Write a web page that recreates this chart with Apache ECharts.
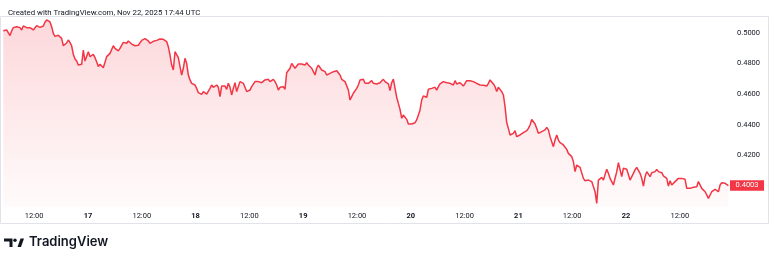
<!DOCTYPE html>
<html><head><meta charset="utf-8">
<script src="https://cdn.jsdelivr.net/npm/echarts@6/dist/echarts.min.js"></script>
<style>html,body{margin:0;padding:0;background:#fff}#c{width:778px;height:258px}</style>
</head><body><div id="c"></div>
<script>
// Prices, in time order (Nov 16 → Nov 22)
const pricesA = [
0.5013,0.5015,0.5018,0.5007,0.4981,0.5011,0.5033,0.5046,0.5039,0.5044,
0.5033,0.5018,0.5044,0.5046,0.5033,0.5024,0.5033,0.5024,0.5018,0.5028,
0.5046,0.5042,0.5035,0.5046,0.5044,0.5068,0.5083,0.5076,0.5070,0.5039,
0.4996,0.4976,0.4981,0.4983,0.4985,0.4963,0.4915,0.4920,0.4933,0.4952,
0.4937,0.4915,0.4859,0.4829,0.4815,0.4789,0.4789,0.4794,0.4887,0.4815,
0.4811,0.4876,0.4844,0.4833,0.4859,0.4837,0.4811,0.4779,0.4794,0.4800,
0.4772,0.4807,0.4844,0.4837,0.4865,0.4876,0.4915,0.4898,0.4902,0.4881,
0.4898,0.4902,0.4937,0.4931,0.4931,0.4946,0.4937,0.4926,0.4922,0.4915,
0.4920,0.4918,0.4924,0.4950,0.4963,0.4961,0.4952,0.4946,0.4931,0.4942,
0.4944,0.4948,0.4950,0.4952,0.4959,0.4963,0.4957,0.4950,0.4942,0.4909,
0.4855,0.4789,0.4757,0.4876,0.4865,0.4837];
const pricesB = [
0.4779,0.4724,0.4768,0.4833,0.4800,0.4724,0.4692,0.4670,0.4681,0.4659,
0.4637,0.4609,0.4605,0.4598,0.4616,0.4626,0.4600,0.4609,0.4637,0.4659,
0.4644,0.4631,0.4659,0.4644,0.4583,0.4652,0.4665,0.4652,0.4631,0.4670,
0.4644,0.4594,0.4637,0.4674,0.4616,0.4609,0.4681,0.4681,0.4670,0.4659,
0.4616,0.4605,0.4626,0.4648,0.4652,0.4681,0.4692,0.4681,0.4687,0.4674,
0.4681,0.4692,0.4687,0.4696,0.4681,0.4670,0.4696,0.4681,0.4659,0.4626,
0.4644,0.4631,0.4648,0.4631,0.4739,0.4746,0.4768,0.4800,0.4796,0.4768,
0.4774,0.4796,0.4800,0.4796,0.4800,0.4789,0.4805,0.4789,0.4789,0.4768,
0.4746,0.4724,0.4768,0.4789,0.4783,0.4757,0.4752,0.4746,0.4724,0.4713,
0.4735,0.4739,0.4746,0.4735,0.4752,0.4746,0.4724,0.4696,0.4687,0.4681,
0.4670,0.4626,0.4561,0.4583,0.4605,0.4616,0.4637,0.4659];
const pricesC = [
0.4692,0.4696,0.4696,0.4670,0.4659,0.4670,0.4681,0.4687,0.4670,0.4674,
0.4666,0.4670,0.4674,0.4687,0.4696,0.4681,0.4674,0.4666,0.4622,0.4674,
0.4698,0.4637,0.4579,0.4539,0.4500,0.4442,0.4463,0.4463,0.4435,0.4405,
0.4400,0.4405,0.4398,0.4413,0.4431,0.4463,0.4496,0.4561,0.4587,0.4594,
0.4579,0.4631,0.4626,0.4637,0.4637,0.4644,0.4626,0.4648,0.4666,0.4674,
0.4681,0.4674,0.4674,0.4666,0.4670,0.4659,0.4659,0.4687,0.4666,0.4659,
0.4674,0.4666,0.4652,0.4670,0.4687,0.4696,0.4687,0.4692,0.4681,0.4674,
0.4670,0.4666,0.4659,0.4652,0.4657,0.4648,0.4652,0.4670,0.4692,0.4681,
0.4666,0.4648,0.4616,0.4644,0.4648,0.4616,0.4594,0.4518,0.4413,0.4376,
0.4333,0.4322,0.4344,0.4361,0.4322,0.4311,0.4333,0.4322,0.4348,0.4339,
0.4361,0.4376,0.4398,0.4435,0.4440,0.4405,0.4376,0.4344];
const pricesD = [
0.4333,0.4355,0.4348,0.4366,0.4383,0.4366,0.4322,0.4311,0.4257,0.4300,
0.4333,0.4300,0.4283,0.4274,0.4268,0.4253,0.4239,0.4213,0.4209,0.4192,
0.4159,0.4094,0.4137,0.4148,0.4122,0.4109,0.4050,0.4035,0.4029,0.4039,
0.4050,0.4029,0.4018,0.3963,0.3887,0.4039,0.4039,0.4057,0.4039,0.4050,
0.4109,0.4083,0.4050,0.4029,0.4007,0.4018,0.4094,0.4152,0.4148,0.4061,
0.4116,0.4126,0.4109,0.4105,0.4039,0.4029,0.4083,0.4105,0.4122,0.4116,
0.4083,0.4050,0.4000,0.4061,0.4094,0.4100,0.4061,0.4087,0.4100,0.4094,
0.4109,0.4094,0.4083,0.4087,0.4066,0.4072,0.4050,0.4000,0.4035,0.4007,
0.4018,0.4029,0.4035,0.4050,0.4057,0.4050,0.4050,0.4044,0.3985,0.3974,
0.3985,0.3974,0.3992,0.3979,0.3996,0.4029,0.4018,0.3985,0.3974,0.3963,
0.3942,0.3920,0.3926,0.3963,0.3974,0.3979,0.3985,0.3963,0.4007,0.4022,
0.4029,0.4018,0.4013,0.4003];

// Time base: hours after Nov 16, 00:00; bars are evenly spaced
const START_HOUR = 5.115;
const STEP_HOURS = 0.3718;
const END_HOUR = 167.2;
const FIRST_DAY = 16;
const timeTicks = [12,24,36,48,60,72,84,96,108,120,132,144,156];
const priceTicks = [0.42,0.44,0.46,0.48,0.50];
const priceMin = 0.38634, priceMax = 0.51024;
const titleText = 'Created with TradingView.com, Nov 22, 2025 17:44 UTC';
const brandText = 'TradingView';

const prices = [].concat(pricesA, pricesB, pricesC, pricesD);
const lastPrice = prices[prices.length - 1];
const data = prices.map((v, i) => [START_HOUR + i * STEP_HOURS, v]);

const RED = '#F23645';
const TXT = '#131722';
const FONT = 'Roboto, "Open Sans", sans-serif';

const chart = echarts.init(document.getElementById('c'), null, {renderer: 'canvas'});
chart.setOption({
  animation: false,
  backgroundColor: '#ffffff',
  textStyle: {fontFamily: FONT},
  title: {
    text: titleText, left: 3, top: 4.5,
    textStyle: {fontSize: 7.8, fontWeight: 'normal', color: TXT, fontFamily: FONT}
  },
  grid: {left: 3.3, right: 48, top: 17, bottom: 51},
  xAxis: {
    type: 'value', min: START_HOUR, max: END_HOUR,
    axisLine: {show: false}, axisTick: {show: false}, splitLine: {show: false},
    axisLabel: {
      customValues: timeTicks,
      margin: 5, fontSize: 7.5, color: TXT, fontFamily: FONT,
      formatter: v => (v % 24 === 0) ? '{d|' + (FIRST_DAY + v / 24) + '}' : '12:00',
      rich: {d: {fontWeight: 'bold', fontSize: 7.5, color: TXT, fontFamily: FONT}}
    }
  },
  yAxis: {
    type: 'value', position: 'right', min: priceMin, max: priceMax,
    axisLine: {show: false}, axisTick: {show: false}, splitLine: {show: false},
    axisLabel: {
      customValues: priceTicks, margin: 7, fontSize: 7.5, color: TXT, fontFamily: FONT,
      align: 'left', formatter: v => v.toFixed(4)
    }
  },
  series: [{
    type: 'line', data: data, symbol: 'none', showSymbol: false,
    lineStyle: {color: RED, width: 1.5},
    areaStyle: {
      origin: 'start',
      color: new echarts.graphic.LinearGradient(0, 0, 0, 1, [
        {offset: 0, color: 'rgba(242,54,69,0.28)'},
        {offset: 1, color: 'rgba(242,54,69,0.03)'}
      ])
    },
    markLine: {
      silent: true, symbol: 'none', animation: false, precision: 4,
      data: [{yAxis: lastPrice}],
      lineStyle: {color: 'rgba(242,54,69,0)', width: 0, type: 'solid'},
      label: {
        show: true, position: 'end', distance: 0,
        formatter: p => Number(p.value).toFixed(4),
        backgroundColor: RED, color: '#ffffff', fontSize: 7.5, fontFamily: FONT,
        padding: [1.5, 5.5, 1, 5.5], opacity: 1
      }
    }
  }],
  graphic: [
    {type: 'rect', silent: true, shape: {x: 0.5, y: 16.5, width: 768, height: 207},
     style: {fill: 'none', stroke: '#E0E3EB', lineWidth: 1}},
    {type: 'polygon', silent: true,
     shape: {points: [[4,238.5],[12.5,238.5],[12.5,247],[9.5,247],[9.5,241.5],[4,241.5]]},
     style: {fill: TXT}},
    {type: 'circle', silent: true, shape: {cx: 15, cy: 240.2, r: 1.7}, style: {fill: TXT}},
    {type: 'polygon', silent: true,
     shape: {points: [[17.5,247],[20.5,238.5],[24,238.5],[21,247]]},
     style: {fill: TXT}},
    {type: 'text', silent: true, left: 29, top: 236,
     style: {text: brandText, fontSize: 13, fontWeight: 600, fill: TXT, fontFamily: 'Inter, Roboto, sans-serif'}}
  ]
});
</script>
</body></html>
